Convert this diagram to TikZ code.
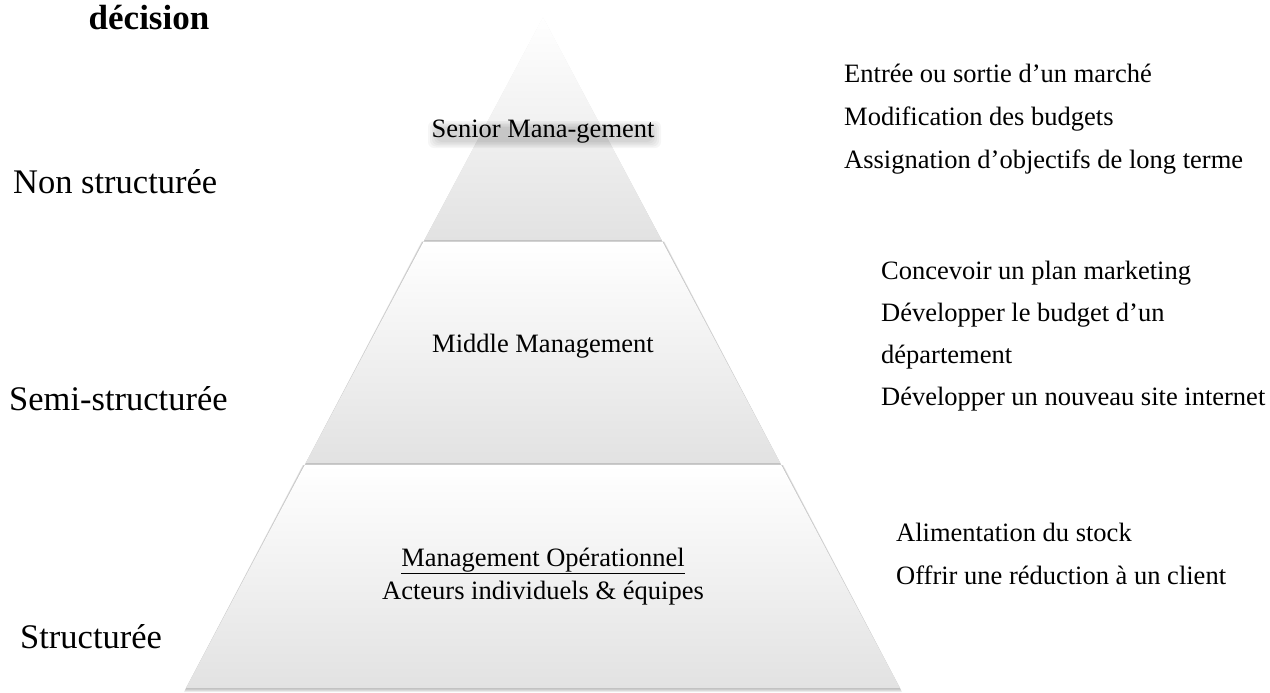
\documentclass[tikz,border=0pt]{standalone}
\usepackage{fontspec}
\setmainfont{Liberation Serif}
\definecolor{bandbot}{RGB}{226,226,226}
\tikzset{
  band/.style={top color=white, bottom color=bandbot, draw=none},
  bandshadow/.style={fill=black, opacity=0.07, draw=none},
  glow/.style={fill=black, opacity=0.035, draw=none, rounded corners=6pt},
  lbl/.style={inner sep=0pt, font=\fontsize{34.5}{40}\selectfont},
  txt/.style={inner sep=0pt, font=\fontsize{26.5}{31}\selectfont},
}
\begin{document}
\begin{tikzpicture}[x=1pt,y=-1pt]
\useasboundingbox (0,0) rectangle (1270,693);
% shadows
\foreach \d in {1,2,3,4}{
  \fill[bandshadow] (543,17+\d*0.5) -- (661.6+\d*0.5,240+\d) -- (424.4-\d*0.5,240+\d) -- cycle;
  \fill[bandshadow] (423.6-\d*0.5,241.5) -- (662.4+\d*0.5,241.5) -- (780.3+\d*0.5,463+\d) -- (305.7-\d*0.5,463+\d) -- cycle;
  \fill[bandshadow] (304.7-\d*0.5,465) -- (781.3+\d*0.5,465) -- (900+\d*0.5,688+\d) -- (186-\d*0.5,688+\d) -- cycle;
}
% bands
\shade[band] (543,17) -- (661.6,240) -- (424.4,240) -- cycle;
\shade[band] (423.6,241.5) -- (662.4,241.5) -- (780.3,463) -- (305.7,463) -- cycle;
\shade[band] (304.7,465) -- (781.3,465) -- (900,688) -- (186,688) -- cycle;
% soft shadow behind senior management
\foreach \i in {0,1,2,3,4}{
  \fill[glow] (428+\i*2,121+\i*1.5) rectangle (661-\i*2,148-\i*1.5);
}
% left labels
\node[inner sep=0pt, anchor=base, font=\fontsize{35}{40}\selectfont\bfseries] (dec) at (149,30) {décision};
\node[lbl, anchor=base west] (nonstr) at (13,193) {Non structurée};
\node[lbl, anchor=base west] (semistr) at (9,410) {Semi-structurée};
\node[lbl, anchor=base west] (str) at (20,648) {Structurée};
% pyramid labels
\node[txt, anchor=base] (senior) at (543,137) {Senior Mana-gement};
\node[txt, anchor=base] (middle) at (543,352) {Middle Management};
\node[txt, anchor=base] (opera) at (543,566) {\underline{Management Opérationnel}};
\node[txt, anchor=base] (acteurs) at (543,599) {Acteurs individuels \& équipes};
% right texts
\node[txt, anchor=base west] (r1a) at (844,82) {Entrée ou sortie d’un marché};
\node[txt, anchor=base west] (r1b) at (844,125) {Modification des budgets};
\node[txt, anchor=base west] (r1c) at (844,168) {Assignation d’objectifs de long terme};
\node[txt, anchor=base west] (r2a) at (881,279) {Concevoir un plan marketing};
\node[txt, anchor=base west] (r2b) at (881,321) {Développer le budget d’un};
\node[txt, anchor=base west] (r2c) at (881,363) {département};
\node[txt, anchor=base west] (r2d) at (881,405) {Développer un nouveau site internet};
\node[txt, anchor=base west] (r3a) at (896,541) {Alimentation du stock};
\node[txt, anchor=base west] (r3b) at (896,584) {Offrir une réduction à un client};
\end{tikzpicture}
\end{document}
